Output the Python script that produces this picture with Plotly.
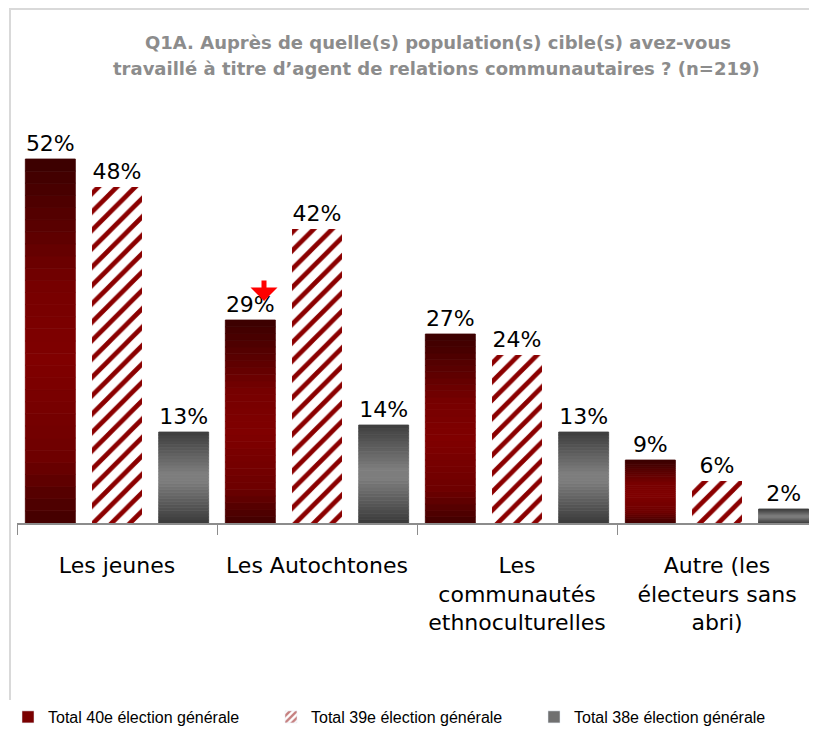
import numpy as np
import plotly.graph_objects as go

categories = ["Les jeunes", "Les Autochtones", "Les<br>communautés<br>ethnoculturelles",
              "Autre (les<br>électeurs sans<br>abri)"]
series_names = ["Total 40e élection générale", "Total 39e élection générale",
                "Total 38e élection générale"]
total_40 = [52, 29, 27, 9]
total_39 = [48, 42, 24, 6]
total_38 = [13, 14, 13, 2]

title_line1 = "Q1A. Auprès de quelle(s) population(s) cible(s) avez-vous"
title_line2 = "travaillé à titre d’agent de relations communautaires ? (n=219)"

# gradient stops (fraction from bottom, rgb)
red_stops = [(0.0, (66, 0, 0)), (0.18, (110, 0, 0)), (0.45, (128, 0, 0)),
             (0.65, (118, 0, 0)), (1.0, (58, 0, 0))]
gray_stops = [(0.0, (58, 58, 58)), (0.45, (125, 125, 125)), (0.55, (125, 125, 125)),
              (1.0, (62, 62, 62))]

def grad_color(stops, t):
    for (t0, c0), (t1, c1) in zip(stops[:-1], stops[1:]):
        if t0 <= t <= t1:
            f = 0 if t1 == t0 else (t - t0) / (t1 - t0)
            c = [round(a + (b - a) * f) for a, b in zip(c0, c1)]
            return f"rgb({c[0]},{c[1]},{c[2]})"
    c = stops[-1][1]
    return f"rgb({c[0]},{c[1]},{c[2]})"

# figure geometry (page is offset by the 8px body margin)
W, H = 809, 722
ML, MT = 9, 95
PW, PH = 800, 420
MB = H - MT - PH
BASE = MT + PH  # baseline in figure px

N = 30
fig = go.Figure()

def add_gradient_series(values, stops, group, name):
    vals = np.array(values, dtype=float)
    for i in range(N):
        t = (i + 0.5) / N
        col = grad_color(stops, t)
        fig.add_trace(go.Bar(
            x=categories, y=vals / N, base=vals * i / N,
            offsetgroup=group, marker=dict(color=col, line=dict(width=0.8, color=col)),
            showlegend=False, hoverinfo="skip", name=name))

def add_label_trace(values, group, name):
    fig.add_trace(go.Bar(
        x=categories, y=values, offsetgroup=group, name=name,
        marker=dict(color="rgba(0,0,0,0)", line=dict(width=0)), showlegend=False,
        text=[f"{v}%" for v in values], textposition="outside",
        textfont=dict(family="DejaVu Sans", size=22, color="black"),
        cliponaxis=False))

# Series 40 (gradient red)
add_gradient_series(total_40, red_stops, "a", series_names[0])
# Series 39 (striped)
fig.add_trace(go.Bar(
    x=categories, y=total_39, offsetgroup="b", name=series_names[1],
    marker=dict(color="white", line=dict(width=0),
                pattern=dict(shape="/", fgcolor="#8b0000", bgcolor="white",
                             size=13, solidity=0.36, fillmode="replace")),
    showlegend=False))
# Series 38 (gradient gray)
add_gradient_series(total_38, gray_stops, "c", series_names[2])

# labels
add_label_trace(total_40, "a", series_names[0])
add_label_trace(total_39, "b", series_names[1])
add_label_trace(total_38, "c", series_names[2])

# legend entries
fig.add_trace(go.Bar(x=[None], y=[None], name=series_names[0],
                     marker=dict(color="#7a0000"), showlegend=True))
fig.add_trace(go.Bar(x=[None], y=[None], name=series_names[1],
                     marker=dict(color="white",
                                 pattern=dict(shape="/", fgcolor="#8b0000", bgcolor="white",
                                              size=6, solidity=0.5)),
                     showlegend=True))
fig.add_trace(go.Bar(x=[None], y=[None], name=series_names[2],
                     marker=dict(color="#707070"), showlegend=True))

def py(page_y):
    """paper y for a page pixel y"""
    return (BASE - (page_y - 8)) / PH

def px(page_x):
    return ((page_x - 8) - ML) / PW

fig.update_layout(
    width=W, height=H,
    margin=dict(l=ML, r=0, t=MT, b=MB, autoexpand=False),
    paper_bgcolor="white", plot_bgcolor="white",
    barmode="group", bargap=0.0, bargroupgap=0.25,
    showlegend=True,
    legend=dict(orientation="h", x=-ML / PW, xanchor="left", y=py(717), yanchor="middle",
                font=dict(family="Liberation Sans Narrow, Liberation Sans, sans-serif",
                          size=16, color="black"),
                itemwidth=30, entrywidth=218, entrywidthmode="pixels",
                traceorder="normal", tracegroupgap=0, itemclick=False),
    font=dict(family="DejaVu Sans", color="black"),
)

fig.update_xaxes(
    type="category", showline=True, linecolor="#8c8c8c", linewidth=1.5,
    ticks="outside", tickson="boundaries", ticklen=10, tickcolor="#8c8c8c", tickwidth=1,
    tickfont=dict(family="DejaVu Sans", size=22, color="black"),
    ticklabelstandoff=22, showgrid=False, zeroline=False, automargin=False,
)
fig.update_yaxes(range=[0, 60], visible=False, showgrid=False, zeroline=False)

# title lines
fig.add_annotation(text=f"<b>{title_line1}</b>", xref="paper", yref="paper",
                   x=px(438), y=py(42), xanchor="center", yanchor="middle",
                   showarrow=False, font=dict(family="DejaVu Sans", size=18, color="#8c8c8c"))
fig.add_annotation(text=f"<b>{title_line2}</b>", xref="paper", yref="paper",
                   x=px(436), y=py(68), xanchor="center", yanchor="middle",
                   showarrow=False, font=dict(family="DejaVu Sans", size=18, color="#8c8c8c"))

# red down arrow marking the decrease
fig.add_annotation(x=categories[1], y=31.7, xref="x", yref="y", xshift=-53,
                   showarrow=True, ax=0, ay=-22, arrowhead=1, arrowsize=0.9,
                   arrowwidth=5, arrowcolor="#ff0000", text="", standoff=0)

# light frame
fig.add_shape(type="rect", xref="paper", yref="paper",
              x0=px(10), x1=1.05, y0=-0.6, y1=(BASE - 1) / PH,
              line=dict(color="#d9d9d9", width=2), fillcolor="rgba(0,0,0,0)", layer="below")

fig.write_html("out.html")
